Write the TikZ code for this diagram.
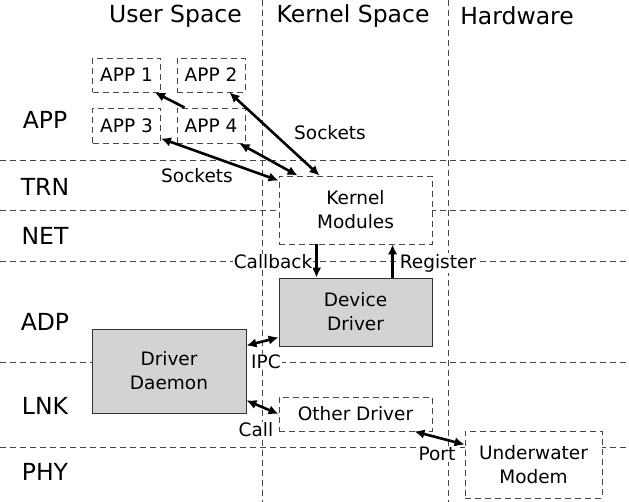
\documentclass[tikz,border=0pt]{standalone}
\usepackage{fontspec}
\setmainfont{DejaVu Sans}
\usetikzlibrary{arrows.meta,calc}
\definecolor{boxgray}{RGB}{211,211,211}
\definecolor{gridline}{RGB}{70,70,70}
\begin{document}
\begin{tikzpicture}[x=1pt,y=-1pt,
  grid/.style={draw=gridline,line width=0.9pt,dash pattern=on 6pt off 4pt},
  softbox/.style={draw=gridline,line width=0.9pt,dash pattern=on 6pt off 4pt,fill=white,
    inner sep=0pt,align=center,font=\fontsize{18.5}{24}\selectfont},
  hardbox/.style={draw=black!80,line width=0.9pt,fill=boxgray,
    inner sep=0pt,align=center,font=\fontsize{18.5}{24}\selectfont},
  head/.style={font=\fontsize{23.5}{28}\selectfont},
  link/.style={line width=2.6pt,-{Latex[length=10pt,width=9.5pt]}},
  both/.style={line width=2.6pt,{Latex[length=10pt,width=9.5pt]}-{Latex[length=10pt,width=9.5pt]}},
  tag/.style={fill=white,inner sep=1pt,font=\fontsize{18.5}{22}\selectfont}]
\useasboundingbox (0,0) rectangle (629,502);

% layer and domain separators
\foreach \yy in {160,210,261,362,447} \draw[grid] (0,\yy) -- (629,\yy);
\foreach \xx in {262,448} \draw[grid] (\xx,0) -- (\xx,502);

% column headings
\node[head] (hu) at (175.5,16) {User Space};
\node[head] (hk) at (353,16) {Kernel Space};
\node[head] (hh) at (517,16) {Hardware};

% row headings
\node[head] (lapp) at (45,120) {APP};
\node[head] (ltrn) at (45,187) {TRN};
\node[head] (lnet) at (45,236) {NET};
\node[head] (ladp) at (45,322) {ADP};
\node[head] (llnk) at (45,406) {LNK};
\node[head] (lphy) at (45,472) {PHY};

% components
\node[softbox,minimum width=68pt,minimum height=34pt] (app1) at (126.5,75) {APP 1};
\node[softbox,minimum width=68pt,minimum height=34pt] (app2) at (211,75) {APP 2};
\node[softbox,minimum width=68pt,minimum height=35pt] (app3) at (126.5,125.5) {APP 3};
\node[softbox,minimum width=68pt,minimum height=35pt] (app4) at (211,125.5) {APP 4};
\node[softbox,minimum width=153pt,minimum height=68pt] (kern) at (355.5,210) {Kernel\\Modules};
\node[hardbox,minimum width=153pt,minimum height=68pt] (dev) at (355.5,312) {Device\\Driver};
\node[hardbox,minimum width=154pt,minimum height=84pt] (daemon) at (169,371) {Driver\\Daemon};
\node[softbox,minimum width=153pt,minimum height=34pt] (other) at (355.5,414) {Other Driver};
\node[softbox,minimum width=137pt,minimum height=67pt] (modem) at (533.5,464.5) {Underwater\\Modem};

% connections
\draw[link] ($(app4.north west)+(8,0)$) -- ($(app1.south east)+(-6,0)$);
\draw[both] ($(app2.south east)+(-16,0)$) -- ($(kern.north west)+(41,0)$);
\draw[both] ($(app4.south east)+(-6,0)$) -- ($(kern.north west)+(19,0)$);
\draw[both] ($(app3.south east)+(0,-5)$) -- ($(kern.north west)+(0,5)$);
\draw[link] ($(kern.south west)+(38,0)$) -- ($(dev.north west)+(38,0)$);
\draw[link] ($(dev.north west)+(114,0)$) -- ($(kern.south west)+(114,0)$);
\draw[both] ($(daemon.north east)+(0,17)$) -- ($(dev.south west)+(0,-9)$);
\draw[both] ($(daemon.south east)+(0,-13)$) -- (other.west);
\draw[both] ($(other.south east)+(-18,0)$) -- ($(modem.north west)+(0,14)$);

% connection labels
\node[tag] (ts1) at (330,133) {Sockets};
\node[tag] (ts2) at (197,176) {Sockets};
\node[tag] (tcb) at (273,262) {Callback};
\node[tag] (trg) at (438,263) {Register};
\node[tag] (tipc) at (266,362) {IPC};
\node[tag] (tcall) at (256,430) {Call};
\node[tag] (tport) at (437,454) {Port};
\end{tikzpicture}
\end{document}
